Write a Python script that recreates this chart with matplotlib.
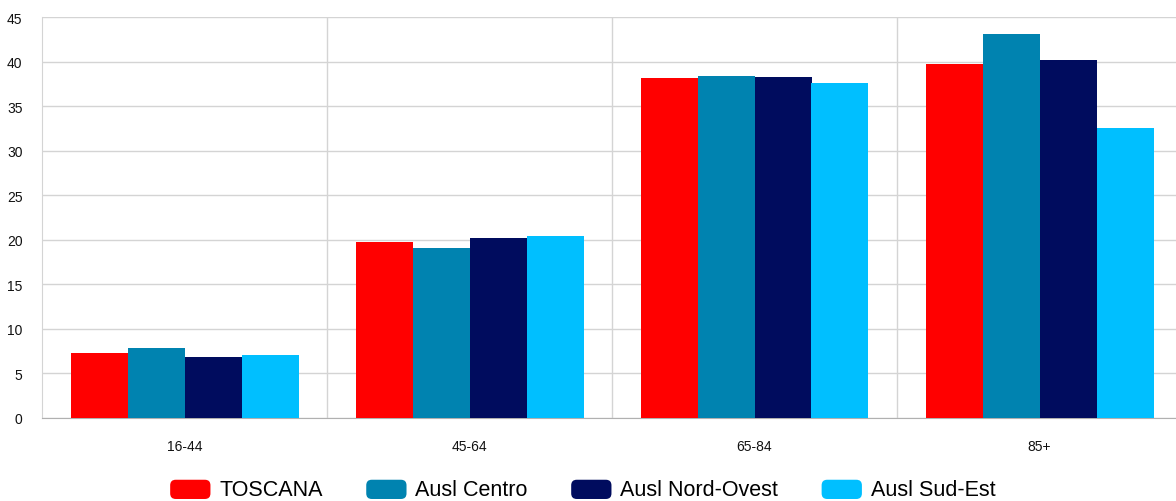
import numpy as np
from matplotlib import pyplot as plt
from matplotlib.patches import FancyBboxPatch
from matplotlib.legend_handler import HandlerPatch

categories = ['16-44', '45-64', '65-84', '85+']
series_names = ['TOSCANA', 'Ausl Centro', 'Ausl Nord-Ovest', 'Ausl Sud-Est']
toscana = [7.3, 19.7, 38.2, 39.7]
centro = [7.8, 19.1, 38.4, 43.1]
nord_ovest = [6.8, 20.2, 38.3, 40.2]
sud_est = [7.1, 20.4, 37.6, 32.5]
colors = ['#ff0000', '#0083b0', '#000c5e', '#00bfff']


class RoundHandler(HandlerPatch):
    def create_artists(self, legend, orig_handle, xdescent, ydescent,
                       width, height, fontsize, trans):
        p = FancyBboxPatch((-xdescent + 1, -ydescent - 2), width - 2, height + 2,
                           boxstyle='round,pad=0,rounding_size=4',
                           facecolor=orig_handle.get_facecolor(),
                           edgecolor='none', transform=trans)
        return [p]


def plot():
    plt.rcParams['font.family'] = ['Liberation Sans', 'DejaVu Sans']
    fig = plt.figure(figsize=(11.76, 5.02), dpi=100)
    ax = fig.add_axes([42 / 1176, 83 / 502, 1140 / 1176, 401 / 502])

    x = np.arange(len(categories))
    w = 0.2
    data = [toscana, centro, nord_ovest, sud_est]
    bars = []
    for i, vals in enumerate(data):
        b = ax.bar(x + (i - 1.5) * w, vals, w, color=colors[i],
                   label=series_names[i], zorder=3)
        bars.append(b)

    ax.set_xlim(-0.5, len(categories) - 0.5)
    ax.set_ylim(0, 45)
    ax.set_yticks(range(0, 46, 5))
    ax.set_xticks(x)
    ax.set_xticklabels(categories)
    ax.set_xticks(np.arange(0.5, len(categories) - 0.5, 1), minor=True)
    ax.grid(axis='y', color='#d4d4d4', linewidth=1, zorder=0)
    ax.grid(axis='x', which='minor', color='#d4d4d4', linewidth=1, zorder=0)
    ax.tick_params(axis='both', which='both', length=0, labelsize=10,
                   labelcolor='#111111')
    ax.tick_params(axis='x', pad=15)
    ax.tick_params(axis='y', pad=14)
    for s in ['top', 'right']:
        ax.spines[s].set_visible(False)
    ax.spines['left'].set_color('#d4d4d4')
    ax.spines['bottom'].set_color('#b0b0b0')

    fig.legend(handles=[b.patches[0] for b in bars], labels=series_names,
               loc='center', bbox_to_anchor=(0.495, 0.022), ncol=4,
               frameon=False, fontsize=15.5, handlelength=2.0,
               handleheight=0.8, handletextpad=0.35, columnspacing=1.95,
               borderpad=0.1,
               handler_map={plt.Rectangle: RoundHandler()})

    fig.savefig('out.png', dpi=100)


def main():
    plot()


if __name__ == '__main__':
    main()
